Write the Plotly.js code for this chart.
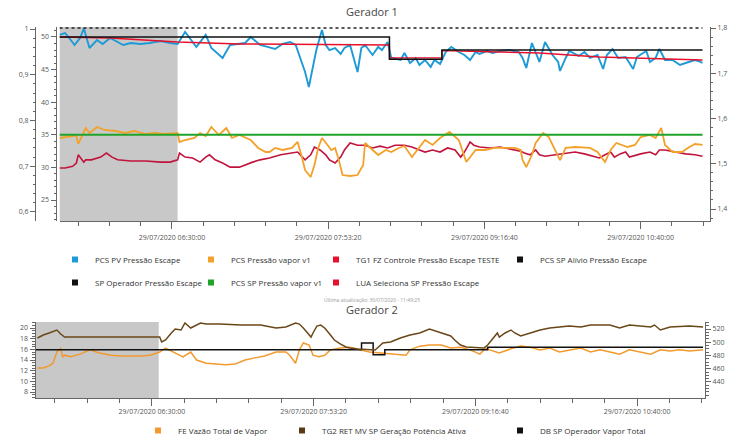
<!DOCTYPE html>
<html>
<head>
<meta charset="utf-8">
<script src="https://cdn.plot.ly/plotly-3.0.1.min.js"></script>
<style>html,body{margin:0;padding:0;background:#fff}#chart{width:744px;height:438px}</style>
</head>
<body>
<div id="chart"></div>
<script>
const DAY = '2020-07-29 ';

// ---- Gerador 1 ----
const pvTime = ['05:30','05:33','05:36','05:38','05:41','05:43','05:46','05:50','05:53','05:57','06:01','06:04','06:08','06:13','06:18','06:24','06:29','06:33','06:37','06:40','06:43','06:48','06:51','06:57','07:01','07:05','07:09','07:12','07:17','07:21','07:25','07:29','07:33','07:36','07:38','07:41','07:43','07:45','07:47','07:50','07:52','07:54','07:57','08:00','08:02','08:05','08:07','08:09','08:11','08:13','08:17','08:20','08:22','08:25','08:27','08:32','08:34','08:37','08:40','08:42','08:45','08:48','08:50','08:53','08:56','08:59','09:03','09:06','09:09','09:12','09:14','09:18','09:21','09:25','09:30','09:35','09:37','09:39','09:42','09:46','09:49','09:53','09:56','09:57','10:00','10:02','10:07','10:10','10:13','10:17','10:20','10:22','10:25','10:28','10:32','10:36','10:38','10:43','10:45','10:48','10:50','10:53','10:57','11:01','11:04','11:06','11:09','11:12','11:13'];
const pvEscape = [50.31,50.61,49.54,48.77,49.85,51.3,48.31,49.54,48.93,49.85,49.23,48.77,49.08,48.93,49.08,49.39,49.08,48.93,50.77,49.54,48.47,50.31,48.31,46.78,48.77,48.93,49.08,50.0,48.77,48.47,48.16,48.93,49.23,48.77,47.24,44.63,42.33,44.94,48.0,51.07,48.77,48.0,48.31,47.39,48.31,48.77,46.78,44.63,48.31,48.77,47.24,48.47,48.0,49.23,46.78,46.47,47.55,46.01,46.78,45.71,46.47,45.40,46.47,45.86,47.70,48.47,47.70,47.24,46.47,47.70,47.39,47.85,47.55,47.85,48.0,47.70,46.78,45.25,49.08,46.17,49.23,47.24,46.17,44.79,46.78,47.85,47.09,47.70,46.78,47.24,45.09,47.24,48.16,46.78,46.93,45.09,46.93,47.85,46.17,46.78,48.16,46.47,46.47,45.71,46.01,46.17,46.47,46.17,46.01];

const vaporTime = ['05:30','05:33','05:38','05:39','05:40','05:41','05:44','05:46','05:50','05:54','06:00','06:05','06:10','06:16','06:21','06:26','06:33','06:34','06:37','06:42','06:45','06:48','06:51','06:55','06:59','07:02','07:06','07:12','07:16','07:20','07:22','07:25','07:29','07:34','07:37','07:39','07:41','07:44','07:46','07:48','07:50','07:53','07:55','07:57','07:59','08:01','08:05','08:09','08:12','08:13','08:17','08:20','08:24','08:27','08:31','08:34','08:38','08:41','08:45','08:49','08:53','08:58','09:03','09:07','09:12','09:17','09:22','09:28','09:33','09:36','09:37','09:39','09:42','09:44','09:48','09:51','09:54','09:57','10:00','10:05','10:13','10:17','10:21','10:24','10:27','10:33','10:37','10:40','10:45','10:48','10:51','10:53','10:57','11:02','11:06','11:09','11:13'];
const vaporV1 = [34.51,34.66,34.82,34.82,33.59,34.20,36.04,35.28,36.20,35.74,35.58,35.28,35.58,35.12,35.28,35.12,35.28,33.90,34.20,34.51,35.28,34.82,36.20,34.97,36.04,34.51,34.97,34.20,32.98,32.36,32.36,32.98,32.67,32.98,33.90,31.90,29.60,28.53,30.37,32.98,34.51,33.44,32.67,32.98,31.13,28.83,28.68,28.83,30.37,33.74,32.67,31.90,32.67,32.36,32.98,33.28,31.60,32.67,34.20,33.44,34.51,35.43,34.20,30.83,32.67,32.67,32.98,32.98,32.98,32.67,31.13,30.06,31.90,33.74,35.28,34.66,32.98,31.13,32.98,33.13,32.98,32.36,30.83,32.67,33.74,33.13,33.44,34.66,34.97,34.51,36.04,33.44,32.36,32.36,33.13,33.59,33.44];

const ctrlTime = ['05:30','05:33','05:37','05:39','05:40','05:43','05:44','05:47','05:52','05:55','05:58','06:01','06:08','06:16','06:24','06:29','06:33','06:34','06:37','06:41','06:45','06:48','06:50','06:53','06:57','07:01','07:06','07:09','07:13','07:17','07:22','07:28','07:33','07:37','07:41','07:44','07:46','07:49','07:52','07:54','07:57','08:00','08:02','08:05','08:09','08:13','08:17','08:21','08:25','08:29','08:34','08:38','08:42','08:45','08:49','08:53','08:57','09:01','09:04','09:06','09:09','09:11','09:14','09:20','09:25','09:30','09:36','09:38','09:41','09:44','09:46','09:49','09:54','10:00','10:05','10:10','10:16','10:18','10:21','10:24','10:26','10:29','10:32','10:34','10:40','10:45','10:48','10:50','10:53','10:58','11:04','11:09','11:13'];
const ctrlTeste = [0.696,0.696,0.700,0.707,0.725,0.709,0.714,0.714,0.720,0.729,0.720,0.714,0.7115,0.7115,0.709,0.709,0.714,0.729,0.720,0.718,0.709,0.720,0.725,0.714,0.707,0.698,0.698,0.703,0.709,0.714,0.718,0.725,0.729,0.731,0.714,0.725,0.742,0.7355,0.725,0.714,0.707,0.720,0.7355,0.751,0.746,0.746,0.740,0.744,0.740,0.746,0.746,0.742,0.7355,0.731,0.7355,0.731,0.740,0.7355,0.720,0.731,0.753,0.746,0.742,0.740,0.742,0.738,0.733,0.729,0.725,0.7355,0.725,0.722,0.725,0.729,0.731,0.727,0.720,0.718,0.725,0.731,0.720,0.727,0.731,0.720,0.727,0.731,0.725,0.7355,0.7355,0.731,0.727,0.725,0.722];

const luaTime = ['05:30','05:57','06:33','07:06','08:26','08:26','08:54','08:54','09:46','10:18','11:13'];
const luaSP = [50.0,49.85,49.23,48.93,48.77,46.8,46.8,47.9,47.55,46.93,46.47];

const opTime = ['05:30','08:26','08:54','11:13'];
const opSP = [50.0,46.6,48.0,48.0];

const alivioTime = ['05:30','11:13'];
const alivioSP = [1.8,1.8];

const spVaporTime = ['05:30','11:13'];
const spVapor = [35,35];

// ---- Gerador 2 ----
const vazaoTime = ['05:31','05:34','05:37','05:39','05:40','05:41','05:43','05:44','05:45','05:48','05:53','05:58','06:03','06:09','06:14','06:24','06:29','06:34','06:37','06:41','06:44','06:46','06:50','06:53','06:58','07:03','07:08','07:13','07:18','07:23','07:28','07:34','07:39','07:41','07:44','07:46','07:48','07:51','07:53','07:56','07:59','08:02','08:07','08:12','08:17','08:22','08:28','08:35','08:41','08:43','08:48','08:53','08:59','09:04','09:09','09:14','09:19','09:22','09:24','09:29','09:35','09:40','09:45','09:50','09:55','10:00','10:05','10:11','10:16','10:21','10:26','10:31','10:36','10:42','10:47','10:52','10:57','11:02','11:07','11:14'];
const vazaoTotal = [12.5,12.5,12.9,13.4,14.4,15.5,16.25,14.6,14.9,14.6,15.1,15.9,15.3,14.9,14.75,14.75,14.9,15.5,16.25,15.5,14.9,14.6,15.5,14.0,13.4,13.25,13.1,13.25,14.0,14.4,14.75,15.5,15.5,14.9,13.4,15.9,17.2,16.8,14.9,14.6,14.9,15.9,16.25,16.4,15.9,15.5,15.3,15.1,14.9,15.9,16.6,16.8,16.8,16.25,16.4,15.9,15.1,16.25,15.9,15.3,16.1,16.6,16.4,15.9,16.25,15.5,15.9,16.25,15.5,15.9,15.5,15.1,15.9,15.5,15.1,15.9,15.7,15.9,15.7,15.9];

const potTime = ['05:31','05:34','05:37','05:41','05:43','05:45','06:03','06:34','06:35','06:37','06:40','06:42','06:45','06:47','06:50','06:52','06:55','06:58','07:05','07:16','07:26','07:34','07:39','07:44','07:46','07:48','07:50','07:52','07:53','07:55','07:57','07:59','08:02','08:04','08:07','08:10','08:12','08:16','08:25','08:29','08:33','08:38','08:43','08:48','08:53','08:56','08:59','09:04','09:06','09:09','09:12','09:21','09:23','09:25','09:28','09:29','09:32','09:35','09:37','09:40','09:42','09:45','09:50','09:55','10:05','10:11','10:16','10:26','10:31','10:36','10:47','10:49','10:52','10:57','11:07','11:14'];
const potAtiva = [506.4,510.9,514,518.5,512.5,507.9,507.9,507.9,500.4,503.4,514,520,518.5,529.1,521.5,524.5,529.1,527.5,527.5,526,526,521.5,523,529.1,527.5,521.5,514,507.9,514,524.5,526,521.5,510.9,503.4,497.4,492.8,491.3,489.8,488.3,498.9,500.4,506.4,510.9,514,520,517,514,509.4,503.4,495.8,492.8,491.3,495.8,503.4,514,507.9,514,518.5,514,509.4,510.9,514,518.5,521.5,524.5,523,526,526,521.5,526,523,526,518.5,523,524.5,523];

const dbTime = ['05:30','08:18','08:24','08:30','09:23','11:14'];
const dbSP = [15.9,17.2,15.0,15.9,16.4,16.4];

// ---- axis ticks ----
const tickTimes = ['06:30:00','07:53:20','09:16:40','10:40:00'];
const tickText = ['29/07/2020 06:30:00','29/07/2020 07:53:20','29/07/2020 09:16:40','29/07/2020 10:40:00'];

const T = a => a.map(t => DAY + t);
const W = 744, H = 438;
const px = v => v / W, py = v => 1 - v / H;

const FONT = 'Open Sans, Liberation Sans, sans-serif';
const AX = '#666';

function line(name, x, y, xa, ya, color, width, extra) {
  return Object.assign({type:'scatter', mode:'lines', name, x:T(x), y, xaxis:xa, yaxis:ya,
    line:{color, width}, showlegend:false, hoverinfo:'skip'}, extra || {});
}
function leg(name, color, legend, xa, ya) {
  return {type:'scatter', mode:'markers', name, x:[null], y:[null], xaxis:xa, yaxis:ya,
    marker:{symbol:'square', size:6, color}, legend, legendgroup:name, showlegend:true};
}

const traces = [
  line('PCS PV Pressão Escape', pvTime, pvEscape, 'x', 'y2', '#1e9ad6', 1.9),
  line('PCS Pressão vapor v1', vaporTime, vaporV1, 'x', 'y2', '#f3a12a', 1.8),
  line('TG1 FZ Controle Pressão Escape TESTE', ctrlTime, ctrlTeste, 'x', 'y', '#c0143c', 1.6),
  line('PCS SP Pressão vapor v1', spVaporTime, spVapor, 'x', 'y2', '#1fa32a', 2),
  line('LUA Seleciona SP Pressão Escape', luaTime, luaSP, 'x', 'y2', '#e8112d', 1.4),
  line('SP Operador Pressão Escape', opTime, opSP, 'x', 'y2', '#111', 1.5, {line:{color:'#111', width:1.5, shape:'hv'}}),
  line('PCS SP Alívio Pressão Escape', alivioTime, alivioSP, 'x', 'y3', '#222', 1.5, {line:{color:'#222', width:1.5, dash:'dot'}}),
  line('FE Vazão Total de Vapor', vazaoTime, vazaoTotal, 'x2', 'y4', '#f29a2e', 1.5),
  line('TG2 RET MV SP Geração Potência Ativa', potTime, potAtiva, 'x2', 'y5', '#6a4718', 1.5),
  line('DB SP Operador Vapor Total', dbTime, dbSP, 'x2', 'y4', '#111', 1.5, {line:{color:'#111', width:1.5, shape:'hv'}}),

  leg('PCS PV Pressão Escape', '#1e9ad6', 'legend', 'x', 'y2'),
  leg('SP Operador Pressão Escape', '#111', 'legend', 'x', 'y2'),
  leg('PCS Pressão vapor v1', '#f3a12a', 'legend2', 'x', 'y2'),
  leg('PCS SP Pressão vapor v1', '#1fa32a', 'legend2', 'x', 'y2'),
  leg('TG1 FZ Controle Pressão Escape TESTE', '#e8112d', 'legend3', 'x', 'y'),
  leg('LUA Seleciona SP Pressão Escape', '#e8112d', 'legend3', 'x', 'y2'),
  leg('PCS SP Alívio Pressão Escape', '#111', 'legend4', 'x', 'y3'),
  leg('FE Vazão Total de Vapor', '#f29a2e', 'legend5', 'x2', 'y4'),
  leg('TG2 RET MV SP Geração Potência Ativa', '#5a3a12', 'legend6', 'x2', 'y5'),
  leg('DB SP Operador Vapor Total', '#111', 'legend7', 'x2', 'y4')
];

const tickFont = {family:FONT, size:7, color:'#555'};
const minorDate = {tickmode:'linear', tick0:DAY+'06:30:00', dtick:1000000, ticklen:4, tickcolor:AX, ticks:'outside'};
function xAxis(domain, range, anchor, standoff) {
  return {domain, range, type:'date', anchor, showgrid:false, zeroline:false, showline:true, linecolor:AX, linewidth:1,
    ticks:'outside', ticklen:7, tickcolor:AX, tickmode:'array', tickvals:T(tickTimes), ticktext:tickText,
    tickfont:tickFont, minor:minorDate, fixedrange:true, ticklabelstandoff:standoff};
}
function yAxis(o) {
  return Object.assign({showgrid:false, zeroline:false, showline:true, linecolor:AX, linewidth:1, ticks:'outside',
    ticklen:5, tickcolor:AX, tickfont:tickFont, fixedrange:true}, o);
}

const legBase = {font:{family:FONT, size:8, color:'#333'}, bgcolor:'rgba(0,0,0,0)', orientation:'v',
  xanchor:'left', yanchor:'top', tracegroupgap:4, itemclick:false, itemdoubleclick:false};

const topDom = [py(221), py(27)];
const botDom = [py(398), py(322)];

const layout = {
  width:W, height:H, margin:{l:0, r:0, t:0, b:0, autoexpand:false}, paper_bgcolor:'#fff', plot_bgcolor:'rgba(0,0,0,0)',
  separators:',.', showlegend:true, hovermode:false,
  font:{family:FONT, color:'#444'},
  title:{text:'Gerador 1', x:0.5, xanchor:'center', y:py(12), yanchor:'middle', font:{family:FONT, size:11, color:'#444'}},
  xaxis: xAxis([px(59.5), px(710)], [DAY+'05:30:00', DAY+'11:17:00'], 'y', 3),
  yaxis: yAxis({domain:topDom, range:[0.5803, 1.0044], anchor:'free', position:px(35), side:'left',
    tickvals:[0.6,0.7,0.8,0.9,1], minor:{dtick:0.02, ticklen:2, tickcolor:AX, ticks:'outside'}}),
  yaxis2: yAxis({domain:topDom, range:[21.78, 51.53], overlaying:'y', anchor:'free', position:px(55.5), side:'left',
    tickvals:[25,30,35,40,45,50], minor:{dtick:1, ticklen:2, tickcolor:AX, ticks:'outside'}}),
  yaxis3: yAxis({domain:topDom, range:[1.3735, 1.8022], overlaying:'y', anchor:'x', side:'right',
    tickvals:[1.4,1.5,1.6,1.7,1.8], minor:{dtick:0.02, ticklen:2, tickcolor:AX, ticks:'outside'}}),
  xaxis2: xAxis([px(35.5), px(705)], [DAY+'05:30:00', DAY+'11:15:00'], 'y4', 0),
  yaxis4: yAxis({domain:botDom, range:[6.875, 21.125], anchor:'x2', side:'left',
    tickvals:[8,10,12,14,16,18,20], minor:{dtick:0.5, ticklen:3, tickcolor:AX, ticks:'outside'}}),
  yaxis5: yAxis({domain:botDom, range:[415.8, 530.6], overlaying:'y4', anchor:'x2', side:'right',
    tickvals:[440,460,480,500,520], minor:{dtick:5, ticklen:3, tickcolor:AX, ticks:'outside'}}),
  shapes:[
    {type:'rect', xref:'x', yref:'y domain', x0:DAY+'05:30:00', x1:DAY+'06:33:00', y0:0, y1:1,
      fillcolor:'rgb(200,200,200)', line:{width:0}, layer:'below'},
    {type:'rect', xref:'x2', yref:'y4 domain', x0:DAY+'05:30:00', x1:DAY+'06:33:30', y0:0, y1:1,
      fillcolor:'rgb(200,200,200)', line:{width:0}, layer:'below'}
  ],
  annotations:[
    {text:'Gerador 2', xref:'paper', yref:'paper', x:0.5, y:py(309), xanchor:'center', yanchor:'middle',
      showarrow:false, font:{family:FONT, size:11, color:'#444'}},
    {text:'Última atualização: 30/07/2020 - 11:49:25', xref:'paper', yref:'paper', x:0.5, y:py(299), xanchor:'center', yanchor:'middle',
      showarrow:false, font:{family:FONT, size:5, color:'#999'}}
  ],
  legend:  Object.assign({}, legBase, {x:px(55),  y:py(245)}),
  legend2: Object.assign({}, legBase, {x:px(191), y:py(245)}),
  legend3: Object.assign({}, legBase, {x:px(316), y:py(245)}),
  legend4: Object.assign({}, legBase, {x:px(500), y:py(245)}),
  legend5: Object.assign({}, legBase, {x:px(138), y:py(416)}),
  legend6: Object.assign({}, legBase, {x:px(282), y:py(416)}),
  legend7: Object.assign({}, legBase, {x:px(500), y:py(416)})
};

Plotly.newPlot('chart', traces, layout, {displayModeBar:false, staticPlot:true});
</script>
</body>
</html>
